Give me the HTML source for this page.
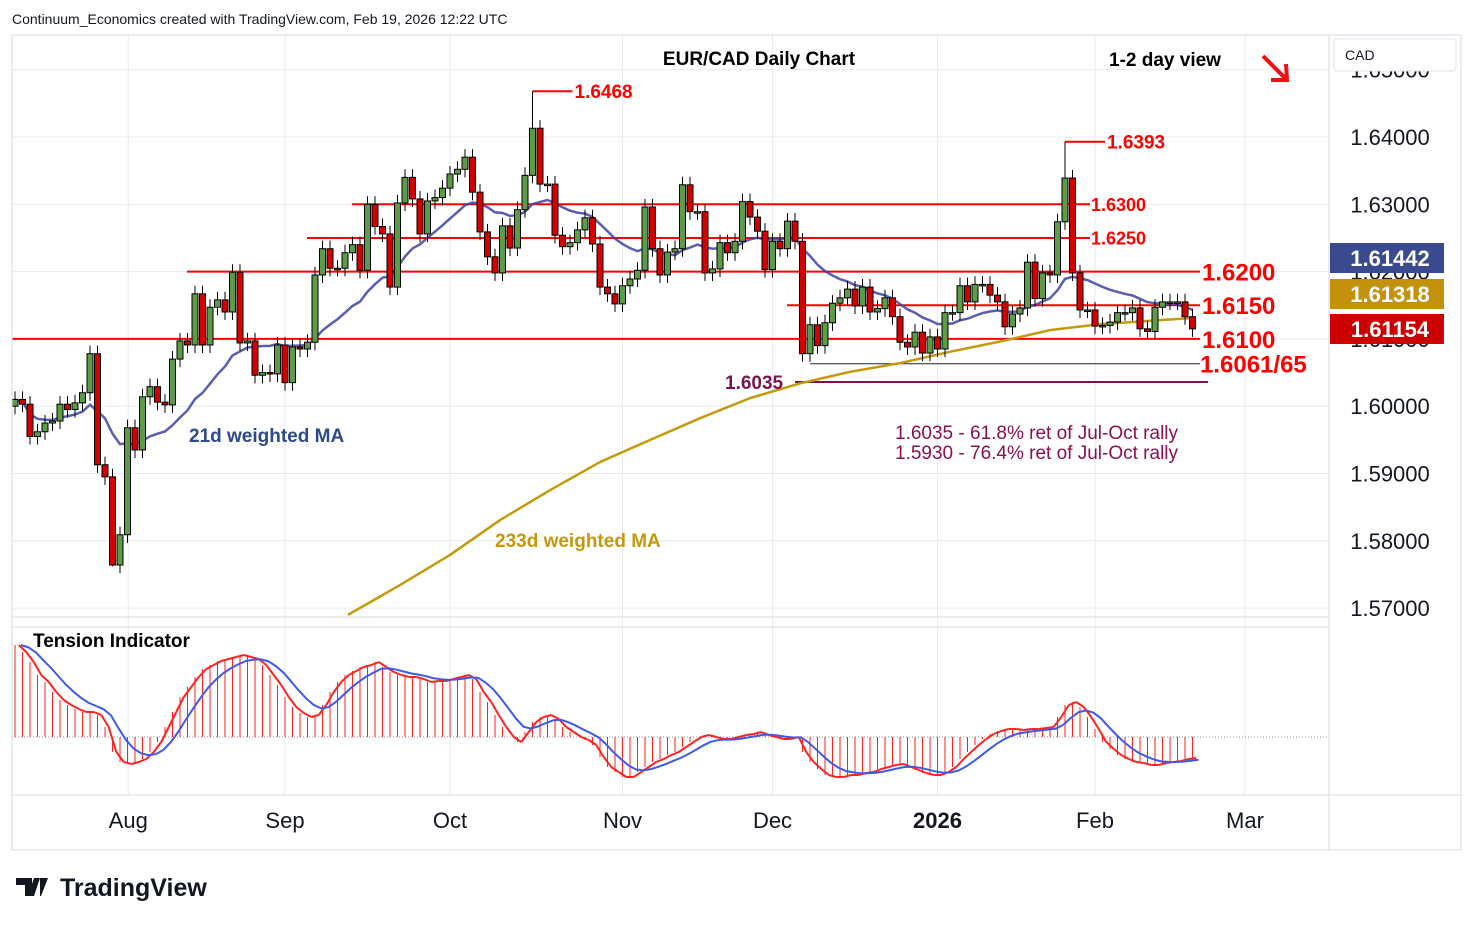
<!DOCTYPE html>
<html><head><meta charset="utf-8"><style>
body{margin:0;background:#fff;font-family:"Liberation Sans",sans-serif}
svg text{font-family:"Liberation Sans",sans-serif}
</style></head><body>
<svg id="c" width="1474" height="925" xmlns="http://www.w3.org/2000/svg">
<rect width="1474" height="925" fill="#fff"/>
<g id="grid"></g>
<g id="levels"></g>
<g id="ma"></g>
<g id="candles"></g>
<g id="tension"></g>
<g id="axes"></g>
</svg>
<script>
const closes=[1.6010,1.6003,1.5955,1.5962,1.5975,1.5978,1.6003,1.5995,1.6005,1.6020,
1.6078,1.5913,1.5895,1.5764,1.5809,1.5968,1.5935,1.6014,1.6029,1.6006,
1.6002,1.6070,1.6097,1.6091,1.6167,1.6091,1.6147,1.6158,1.6140,1.6199,
1.6094,1.6097,1.6046,1.6050,1.6048,1.6091,1.6035,1.6088,1.6085,1.6095,
1.6195,1.6234,1.6205,1.6205,1.6228,1.6240,1.6202,1.6300,1.6267,1.6256,
1.6177,1.6302,1.6340,1.6308,1.6256,1.6305,1.6310,1.6324,1.6345,1.6352,
1.6370,1.6318,1.6259,1.6222,1.6198,1.6268,1.6235,1.6292,1.6343,1.6413,
1.6330,1.6330,1.6254,1.6237,1.6243,1.6262,1.6280,1.6241,1.6177,1.6167,
1.6152,1.6179,1.6189,1.6202,1.6296,1.6234,1.6195,1.6229,1.6234,1.6329,
1.6289,1.6289,1.6198,1.6204,1.6243,1.6228,1.6245,1.6304,1.6281,1.6260,
1.6203,1.6245,1.6234,1.6275,1.6245,1.6078,1.6121,1.6090,1.6124,1.6153,
1.6161,1.6174,1.6149,1.6177,1.6140,1.6145,1.6161,1.6133,1.6095,1.6088,
1.6110,1.6079,1.6103,1.6085,1.6139,1.6139,1.6179,1.6155,1.6181,1.6181,
1.6165,1.6155,1.6118,1.6137,1.6146,1.6214,1.6160,1.6198,1.6195,1.6274,
1.6339,1.6198,1.6143,1.6143,1.6119,1.6120,1.6125,1.6139,1.6139,1.6146,
1.6115,1.6111,1.6147,1.6155,1.6155,1.6155,1.6133,1.6115];
const firstOpen=1.6000;
const extremeIdx=[69,140,13];
const extremeVal=[1.6468,1.6393,1.5762];
const ma233Idx=[44.4,51.3,58,64.7,71.3,78,84.7,91.3,98,104.7,111.3,118,124.7,131.3,138,144.7,157];
const ma233Val=[1.5690,1.5734,1.5779,1.5831,1.5875,1.5917,1.5950,1.5982,1.6012,1.6034,1.6051,1.6064,1.6081,1.6096,1.6113,1.6122,1.6131];
const tension=[92,85,75,62,55,45,37,32,28,25,25,22,10,-15,-25,-27,-25,-22,-15,-5,
10,25,40,50,60,68,72,76,78,80,82,80,78,72,62,52,40,30,24,20,
22,32,45,55,62,66,70,72,75,70,65,62,60,60,58,55,56,56,58,60,
62,58,45,35,22,10,0,-5,5,15,20,22,18,10,5,0,-3,-8,-20,-30,
-35,-40,-40,-35,-30,-25,-22,-18,-15,-10,-5,0,2,0,-2,-2,0,2,3,5,
2,0,-2,-2,0,-15,-25,-32,-38,-40,-40,-38,-38,-36,-35,-32,-30,-28,-27,-30,
-33,-36,-38,-38,-35,-30,-22,-15,-8,-2,3,6,8,8,7,8,8,9,10,20,
32,35,30,20,8,-5,-12,-18,-22,-25,-26,-28,-28,-26,-25,-24,-22,-21];
const priceTicks=[1.57,1.58,1.59,1.60,1.61,1.62,1.63,1.64,1.65];
const months=["Aug","Sep","Oct","Nov","Dec","2026","Feb","Mar"];
const monthIdx=[15.1,36,58,81,101,123,144,164];

const NS="http://www.w3.org/2000/svg";
const X=i=>15+i*7.5;
const Y=p=>137+(1.64-p)*6730;
const TY=v=>737-v;
function el(t,a,p){const e=document.createElementNS(NS,t);for(const k in a)e.setAttribute(k,a[k]);document.getElementById(p).appendChild(e);return e;}
function txt(p,x,y,s,o){const e=el('text',Object.assign({x:x,y:y},o),p);e.textContent=s;return e;}

priceTicks.forEach(p=>{const e=el('line',{x1:12,x2:1329,y1:Y(p),y2:Y(p),stroke:'#e6ecf2'},'grid');
});
monthIdx.forEach(i=>{const e=el('line',{x1:X(i),x2:X(i),y1:35,y2:795,stroke:'#e6ecf2'},'grid');
});

const lv=[[1.63,352,1090,'1.6300',1091,18],[1.625,307,1090,'1.6250',1091,18],[1.62,187,1200,'1.6200',1202,24],[1.615,787,1200,'1.6150',1202,24],[1.61,12,1200,'1.6100',1202,24],[1.6063,810,1200,'1.6061/65',1200,24]];
lv.forEach(l=>{const e=el('line',{x1:l[1],x2:l[2],y1:Y(l[0]),y2:Y(l[0]),stroke:l[0]==1.6063?'#222':'#f00','stroke-width':l[0]==1.6063?1:2},'levels');

const t=txt('levels',l[4],Y(l[0])+l[5]/2.7,l[3],{fill:'#f00','font-size':l[5],'font-weight':'bold'});
});
{const e=el('line',{x1:795,x2:1208,y1:382,y2:382,stroke:'#7a1450','stroke-width':2},'levels');}

let pts=ma233Idx.map((i,k)=>X(i)+','+Y(ma233Val[k])).join(' ');
{const e=el('polyline',{points:pts,fill:'none',stroke:'#c49a0c','stroke-width':2.5,'stroke-linejoin':'round'},'ma');}
const wma=closes.map((c,i)=>{let s=0,w=0;for(let j=0;j<21&&i-j>=0;j++){const ww=21-j;s+=closes[i-j]*ww;w+=ww;}return s/w;});
{const e=el('polyline',{points:wma.map((v,i)=>X(i)+','+Y(v)).join(' '),fill:'none',stroke:'#3c43a0','stroke-width':2.5,'stroke-opacity':.85},'ma');}

closes.forEach((c,i)=>{const o=i?closes[i-1]:firstOpen;let hi=Math.max(o,c)+0.0012,lo=Math.min(o,c)-0.0012;
const k=extremeIdx.indexOf(i);if(k>=0){if(extremeVal[k]>c)hi=extremeVal[k];else lo=extremeVal[k];}
const w=el('line',{x1:X(i),x2:X(i),y1:Y(hi),y2:Y(lo),stroke:'#000'},'candles');

const t=Math.min(Y(o),Y(c)),h=Math.max(1.5,Math.abs(Y(o)-Y(c)));
const b=el('rect',{x:X(i)-3,y:t,width:6,height:h,fill:c>=o?'#5c9c47':'#d40000',stroke:'#000','stroke-width':1},'candles');
});

[[69,1.6468,'1.6468'],[140,1.6393,'1.6393']].forEach(a=>{const e=el('line',{x1:X(a[0]),x2:X(a[0])+40,y1:Y(a[1]),y2:Y(a[1]),stroke:'#f00','stroke-width':2},'levels');

const t=txt('levels',X(a[0])+42,Y(a[1])+7,a[2],{fill:'#f00','font-size':19,'font-weight':'bold'});});

{const z=el('line',{x1:12,x2:1329,y1:737,y2:737,stroke:'#999','stroke-dasharray':'1,2'},'tension');}
tension.forEach((v,i)=>{const e=el('line',{x1:X(i),x2:X(i),y1:737,y2:TY(v),stroke:'#f22','stroke-width':1},'tension');
});
for(let i=1;i<tension.length;i++){const e=el('line',{x1:X(i-1)+3.75,x2:X(i)+3.75,y1:TY(tension[i-1]),y2:TY(tension[i]),stroke:'#f22','stroke-width':2},'tension');}
let ema=[],a=0.35;tension.forEach((v,i)=>ema.push(i?ema[i-1]+a*(v-ema[i-1]):v));
{const e=el('polyline',{points:ema.map((v,i)=>(X(i)+6)+','+TY(v)).join(' '),fill:'none',stroke:'#3d5ae8','stroke-width':2},'tension');}

[[12,35,1461,35],[1329,35,1329,850],[12,617,1329,617],[12,627,1329,627],[12,795,1461,795],[12,850,1461,850],[1461,35,1461,850],[12,35,12,850]].forEach(l=>{const e=el('line',{x1:l[0],y1:l[1],x2:l[2],y2:l[3],stroke:'#d6dbe1'},'axes');});
priceTicks.forEach(p=>{const t=txt('axes',1390,Y(p)+8,p.toFixed(5),{'font-size':22,fill:'#131722','text-anchor':'middle'});});
{const r=el('rect',{x:1334,y:39,width:122,height:32,fill:'#fff',stroke:'#e0e3eb',rx:3},'axes');
const t=txt('axes',1345,60,'CAD',{'font-size':14,fill:'#131722'});}
months.forEach((m,k)=>{const t=txt('axes',X(monthIdx[k]),828,m,{'font-size':22,fill:'#131722','text-anchor':'middle','font-weight':m=='2026'?'bold':'normal'});});
[[1.61442,'#3a4a8e'],[1.61318,'#c4920a'],[1.61154,'#cc0000']].forEach((b,k)=>{const y=[258,294,329][k];
const r=el('rect',{x:1330,y:y-15,width:114,height:30,fill:b[1]},'axes');
const t=txt('axes',1390,y+8,b[0].toFixed(5),{'font-size':22,fill:'#fff','text-anchor':'middle','font-weight':'bold'});});

const T=(x,y,s,o,n)=>{const t=txt('axes',x,y,s,o);};
T(12,24,'Continuum_Economics created with TradingView.com, Feb 19, 2026 12:22 UTC',{'font-size':14,fill:'#131722'},'header-credit');
T(759,65,'EUR/CAD Daily Chart',{'font-size':19,fill:'#000','text-anchor':'middle','font-weight':'bold'},'chart-title');
T(1165,66,'1-2 day view',{'font-size':19,fill:'#000','text-anchor':'middle','font-weight':'bold'},'view-label');
T(189,442,'21d weighted MA',{'font-size':19,fill:'#2c4a8a','font-weight':'bold'},'ma21-label');
T(495,547,'233d weighted MA',{'font-size':19,fill:'#c49a0c','font-weight':'bold'},'ma233-label');
T(725,389,'1.6035',{'font-size':19,fill:'#7a1450','font-weight':'bold'},'fib-level-label');
T(895,439,'1.6035 - 61.8% ret of Jul-Oct rally',{'font-size':19,fill:'#8b1050'},'fib-note-1');
T(895,459,'1.5930 - 76.4% ret of Jul-Oct rally',{'font-size':19,fill:'#8b1050'},'fib-note-2');
T(33,647,'Tension Indicator',{'font-size':19,fill:'#000','font-weight':'bold'},'tension-title');
T(60,896,'TradingView',{'font-size':25,fill:'#131722','font-weight':'bold'},'tradingview-logo-text');
{const p=el('path',{d:'M16 878h16v18h-7v-11h-9z M34 878h6l-6 18h-6z M40 878h8l-7 18h-1',fill:'#131722'},'axes');}
{const g=el('path',{d:'M1263 56 L1286 79 M1286 64 L1287 80 L1271 80',stroke:'#f01010','stroke-width':4,fill:'none'},'axes');}
</script>
</body></html>
